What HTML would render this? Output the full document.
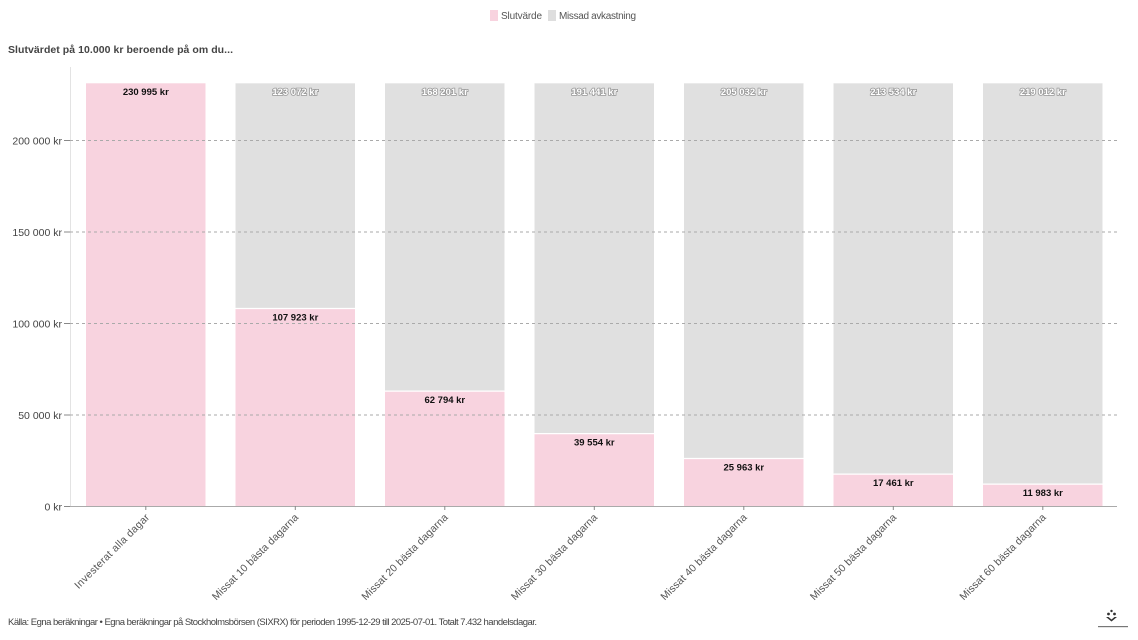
<!DOCTYPE html>
<html><head><meta charset="utf-8"><style>
html,body{margin:0;padding:0;background:#fff;}
svg{display:block;font-family:"Liberation Sans",sans-serif;}
.yl{font-size:10.5px;fill:#444;text-anchor:end;}
.xl{font-size:10.5px;fill:#555;text-anchor:end;}
.pl{font-size:9.5px;font-weight:bold;fill:#111;text-anchor:middle;}
.gl{font-size:9.5px;font-weight:bold;fill:#fff;stroke:#999;stroke-width:1.6px;paint-order:stroke;text-anchor:middle;}
</style></head><body>
<svg width="1138" height="640" viewBox="0 0 1138 640" xmlns="http://www.w3.org/2000/svg">
<!-- legend -->
<rect x="490" y="10" width="8" height="11" fill="#f8d3df"/>
<text x="501" y="19" font-size="10" fill="#555" textLength="41">Slutvärde</text>
<rect x="548" y="10" width="8" height="11" fill="#dedede"/>
<text x="559" y="19" font-size="10" fill="#555" textLength="77">Missad avkastning</text>
<!-- title -->
<text x="8" y="53" font-size="10.5" font-weight="bold" fill="#444" textLength="225">Slutvärdet på 10.000 kr beroende på om du...</text>
<!-- y axis -->
<line x1="70.5" y1="67" x2="70.5" y2="506" stroke="#e3e3e3" stroke-width="1"/>
<!-- bars -->
<g>
<rect x="86" y="83.3" width="119.5" height="422.7" fill="#f8d3df"/>

<rect x="235.5" y="83.3" width="119.5" height="225.2" fill="#e0e0e0"/>
<rect x="235.5" y="308.5" width="119.5" height="197.5" fill="#f8d3df"/>
<line x1="235.5" x2="355" y1="308.5" y2="308.5" stroke="#fff" stroke-width="1.2"/>

<rect x="385" y="83.3" width="119.5" height="307.8" fill="#e0e0e0"/>
<rect x="385" y="391.1" width="119.5" height="114.9" fill="#f8d3df"/>
<line x1="385" x2="504.5" y1="391.1" y2="391.1" stroke="#fff" stroke-width="1.2"/>

<rect x="534.5" y="83.3" width="119.5" height="350.3" fill="#e0e0e0"/>
<rect x="534.5" y="433.6" width="119.5" height="72.4" fill="#f8d3df"/>
<line x1="534.5" x2="654" y1="433.6" y2="433.6" stroke="#fff" stroke-width="1.2"/>

<rect x="684" y="83.3" width="119.5" height="375.2" fill="#e0e0e0"/>
<rect x="684" y="458.5" width="119.5" height="47.5" fill="#f8d3df"/>
<line x1="684" x2="803.5" y1="458.5" y2="458.5" stroke="#fff" stroke-width="1.2"/>

<rect x="833.5" y="83.3" width="119.5" height="390.8" fill="#e0e0e0"/>
<rect x="833.5" y="474.1" width="119.5" height="31.9" fill="#f8d3df"/>
<line x1="833.5" x2="953" y1="474.1" y2="474.1" stroke="#fff" stroke-width="1.2"/>

<rect x="983" y="83.3" width="119.5" height="400.8" fill="#e0e0e0"/>
<rect x="983" y="484.1" width="119.5" height="21.9" fill="#f8d3df"/>
<line x1="983" x2="1102.5" y1="484.1" y2="484.1" stroke="#fff" stroke-width="1.2"/>
</g>
<!-- gridlines -->
<g stroke="#aaa" stroke-width="1" stroke-dasharray="3,3">
<line x1="70" x2="1117" y1="140.5" y2="140.5"/>
<line x1="70" x2="1117" y1="232" y2="232"/>
<line x1="70" x2="1117" y1="323.5" y2="323.5"/>
<line x1="70" x2="1117" y1="415" y2="415"/>
</g>
<line x1="70" x2="1117" y1="506.5" y2="506.5" stroke="#aaa" stroke-width="1"/>
<!-- y ticks -->
<g stroke="#888" stroke-width="1">
<line x1="64" x2="70" y1="140.5" y2="140.5"/>
<line x1="64" x2="70" y1="232" y2="232"/>
<line x1="64" x2="70" y1="323.5" y2="323.5"/>
<line x1="64" x2="70" y1="415" y2="415"/>
<line x1="64" x2="70" y1="506.5" y2="506.5"/>
</g>
<text class="yl" x="62" y="144.5">200 000 kr</text>
<text class="yl" x="62" y="236">150 000 kr</text>
<text class="yl" x="62" y="327.5">100 000 kr</text>
<text class="yl" x="62" y="419">50 000 kr</text>
<text class="yl" x="62" y="510.5">0 kr</text>
<!-- x ticks -->
<g stroke="#888" stroke-width="1">
<line x1="145.8" x2="145.8" y1="506" y2="510"/>
<line x1="295.3" x2="295.3" y1="506" y2="510"/>
<line x1="444.8" x2="444.8" y1="506" y2="510"/>
<line x1="594.3" x2="594.3" y1="506" y2="510"/>
<line x1="743.8" x2="743.8" y1="506" y2="510"/>
<line x1="893.3" x2="893.3" y1="506" y2="510"/>
<line x1="1042.8" x2="1042.8" y1="506" y2="510"/>
</g>
<!-- value labels -->
<text class="pl" x="145.8" y="95">230 995 kr</text>
<text class="gl" x="295.3" y="95">123 072 kr</text>
<text class="pl" x="295.3" y="320.5">107 923 kr</text>
<text class="gl" x="444.8" y="95">168 201 kr</text>
<text class="pl" x="444.8" y="403">62 794 kr</text>
<text class="gl" x="594.3" y="95">191 441 kr</text>
<text class="pl" x="594.3" y="445.5">39 554 kr</text>
<text class="gl" x="743.8" y="95">205 032 kr</text>
<text class="pl" x="743.8" y="470.5">25 963 kr</text>
<text class="gl" x="893.3" y="95">213 534 kr</text>
<text class="pl" x="893.3" y="486">17 461 kr</text>
<text class="gl" x="1042.8" y="95">219 012 kr</text>
<text class="pl" x="1042.8" y="496">11 983 kr</text>
<!-- x labels -->
<text class="xl" transform="translate(150,518) rotate(-45)" textLength="101">Investerat alla dagar</text>
<text class="xl" transform="translate(299,518) rotate(-45)" textLength="117">Missat 10 bästa dagarna</text>
<text class="xl" transform="translate(448.5,518) rotate(-45)" textLength="117">Missat 20 bästa dagarna</text>
<text class="xl" transform="translate(598,518) rotate(-45)" textLength="117">Missat 30 bästa dagarna</text>
<text class="xl" transform="translate(747.5,518) rotate(-45)" textLength="117">Missat 40 bästa dagarna</text>
<text class="xl" transform="translate(897,518) rotate(-45)" textLength="117">Missat 50 bästa dagarna</text>
<text class="xl" transform="translate(1046.5,518) rotate(-45)" textLength="117">Missat 60 bästa dagarna</text>
<!-- footer -->
<text x="8" y="625" font-size="9.5" fill="#444" textLength="529">Källa: Egna beräkningar • Egna beräkningar på Stockholmsbörsen (SIXRX) för perioden 1995-12-29 till 2025-07-01. Totalt 7.432 handelsdagar.</text>
<!-- logo -->
<g fill="#333">
<circle cx="1108.5" cy="614" r="1.4"/>
<circle cx="1114.5" cy="614" r="1.4"/>
<path d="M1106 617 L1111.5 621.5 L1117 617 L1114.5 617 L1111.5 619.5 L1108.5 617 Z"/>
<circle cx="1111.5" cy="611" r="1.2"/>
<rect x="1098" y="626" width="30" height="1.2" fill="#777"/>
</g>
</svg>
</body></html>
